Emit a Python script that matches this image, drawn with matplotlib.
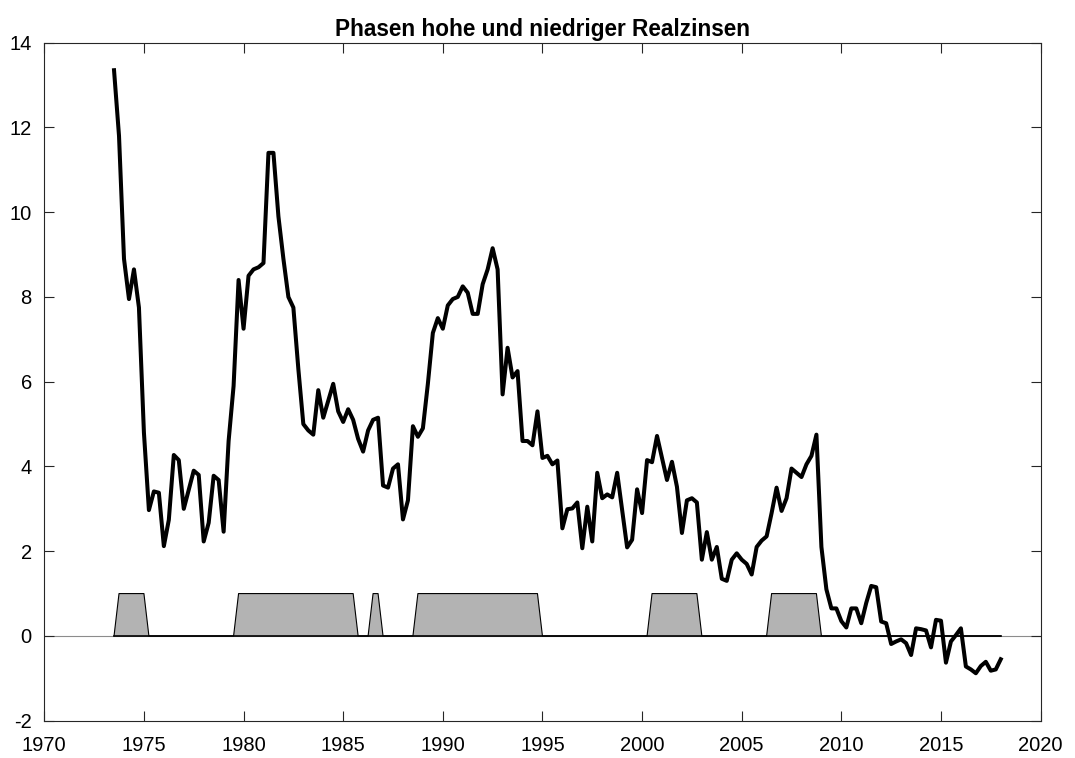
import numpy as np
import matplotlib.pyplot as plt

plt.rcParams['font.family'] = ['Liberation Sans', 'DejaVu Sans']
plt.rcParams['axes.unicode_minus'] = False

# quarterly real interest rate, 1973.5 .. 2018.0
start = 1973.5
rate = [13.35, 11.8, 8.9, 7.95, 8.65, 7.75, 4.8, 2.97, 3.41, 3.38,
        2.12, 2.74, 4.27, 4.15, 3.0, 3.45, 3.9, 3.8, 2.23, 2.67,
        3.78, 3.68, 2.46, 4.6, 5.9, 8.4, 7.25, 8.5, 8.65, 8.7,
        8.8, 11.4, 11.4, 9.9, 8.9, 8.0, 7.75, 6.3, 5.0, 4.85,
        4.75, 5.8, 5.15, 5.55, 5.95, 5.3, 5.05, 5.35, 5.1, 4.65,
        4.35, 4.85, 5.1, 5.15, 3.55, 3.5, 3.95, 4.05, 2.75, 3.2,
        4.95, 4.7, 4.9, 5.95, 7.15, 7.5, 7.25, 7.8, 7.95, 8.0,
        8.25, 8.1, 7.6, 7.6, 8.3, 8.65, 9.15, 8.65, 5.7, 6.8,
        6.1, 6.25, 4.6, 4.6, 4.5, 5.3, 4.2, 4.25, 4.05, 4.14,
        2.54, 2.99, 3.01, 3.15, 2.07, 3.05, 2.23, 3.85, 3.25, 3.34,
        3.27, 3.85, 2.97, 2.09, 2.27, 3.46, 2.9, 4.15, 4.1, 4.72,
        4.2, 3.68, 4.11, 3.52, 2.43, 3.2, 3.25, 3.15, 1.8, 2.45,
        1.8, 2.1, 1.35, 1.3, 1.8, 1.95, 1.8, 1.7, 1.45, 2.1,
        2.25, 2.35, 2.9, 3.5, 2.95, 3.25, 3.95, 3.85, 3.75, 4.05,
        4.25, 4.75, 2.1, 1.1, 0.65, 0.65, 0.35, 0.2, 0.65, 0.65,
        0.3, 0.78, 1.18, 1.15, 0.34, 0.3, -0.19, -0.13, -0.08, -0.17,
        -0.45, 0.18, 0.16, 0.13, -0.27, 0.38, 0.36, -0.63, -0.13, 0.02,
        0.18, -0.72, -0.79, -0.88, -0.71, -0.61, -0.82, -0.79, -0.55]

# phases of high real rates (first and last quarter with indicator = 1)
phases = [(1973.75, 1975.0), (1979.75, 1985.5), (1986.5, 1986.75),
          (1988.75, 1994.75), (2000.5, 2002.75), (2006.5, 2008.75)]

t = start + 0.25 * np.arange(len(rate))
high = np.zeros(len(t))
for a, b in phases:
    high[(t >= a - 1e-6) & (t <= b + 1e-6)] = 1

fig = plt.figure(figsize=(10.75, 7.58), dpi=100)
ax = fig.add_axes([0.0412, 0.0492, 0.9268, 0.8945])

ax.axhline(0, color='#8c8c8c', lw=0.8, zorder=1)
ax.fill_between(t, 0, high, facecolor='#b3b3b3', edgecolor='none', zorder=2)
ax.plot(t, high, color='black', lw=0.8, zorder=3)
ax.plot([t[0], t[-1]], [0, 0], color='black', lw=1.2, zorder=3)
ax.plot(t, rate, color='black', lw=2.9, zorder=4)

ax.set_xlim(1970, 2020)
ax.set_ylim(-2, 14)
ax.set_xticks(np.arange(1970, 2021, 5))
ax.set_yticks(np.arange(-2, 15, 2))
ax.tick_params(direction='in', length=7, width=0.8, top=True, right=True,
               labelsize=14.5, colors='#262626', labelcolor='black')
ax.tick_params(axis='x', pad=11)
ax.tick_params(axis='y', pad=9)
for s in ax.spines.values():
    s.set_color('#262626')
    s.set_linewidth(0.8)
ax.set_title('Phasen hohe und niedriger Realzinsen', fontsize=16.3,
             fontweight='bold', pad=4.5)

fig.savefig('out.png', dpi=100)
